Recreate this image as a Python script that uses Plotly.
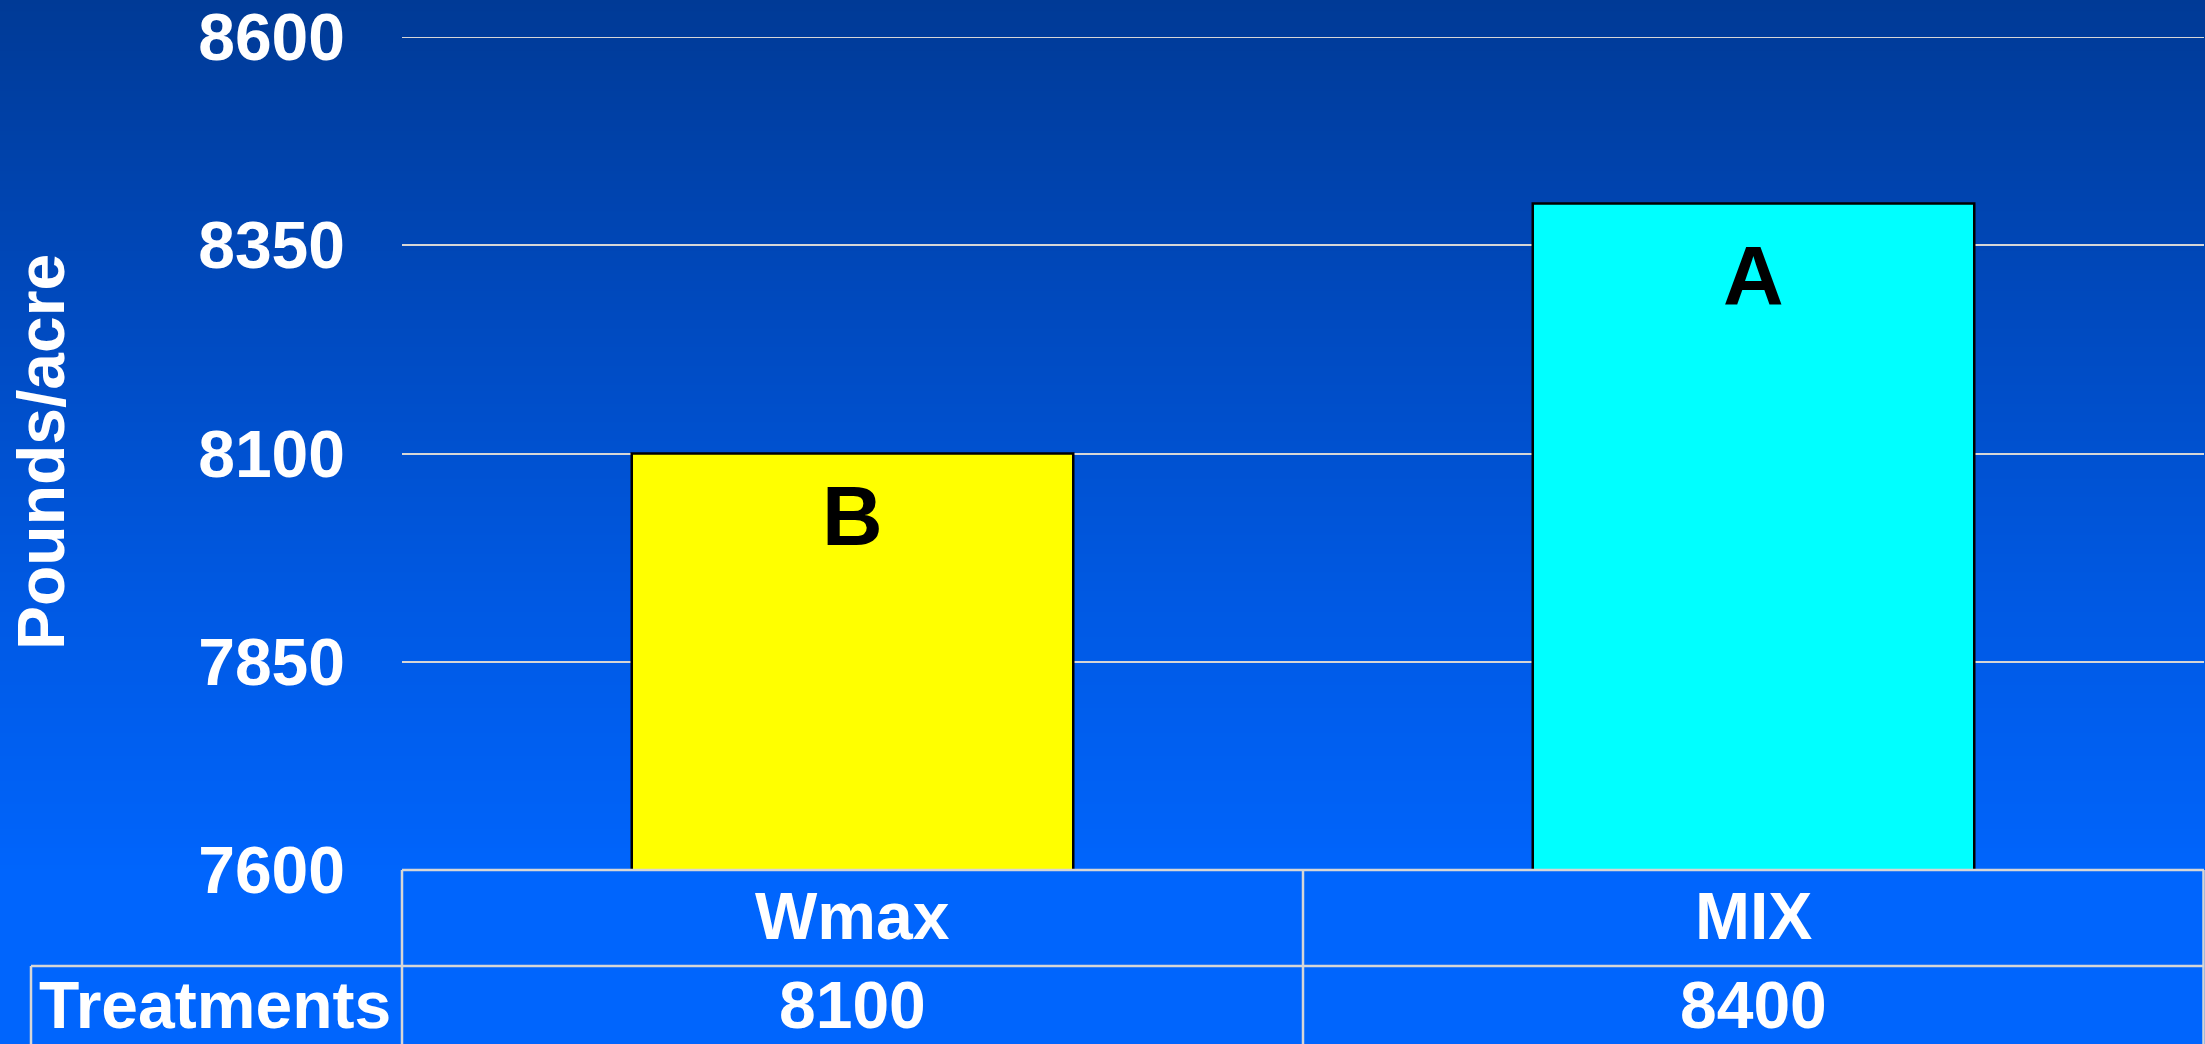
import base64
import struct
import zlib

import plotly.graph_objects as go

# ---------------- data ----------------
treatments = ["Wmax", "MIX"]
yield_lbs = [8100, 8400]
table_values = ["8100", "8400"]
letters = ["B", "A"]
bar_colors = ["#ffff00", "#00ffff"]
y_ticks = [7600, 7850, 8100, 8350, 8600]
row_header = "Treatments"
y_title = "Pounds/acre"

# ---------------- geometry (pixels) ----------------
W, H = 2205, 1044
L, R, T, B = 402, 1, 37, 174
PW = W - L - R
PH = H - T - B


def px_x(x):
    return (x - L) / PW


def px_y(y):
    return (H - B - y) / PH


# ---------------- gradient background ----------------
stops = [(0, (0, 58, 150)), (300, (0, 73, 189)), (600, (0, 89, 227)),
         (840, (0, 99, 249)), (872, (0, 101, 253)), (H, (0, 101, 253))]


def color_at(y):
    for (y0, c0), (y1, c1) in zip(stops[:-1], stops[1:]):
        if y0 <= y <= y1:
            t = 0 if y1 == y0 else (y - y0) / (y1 - y0)
            return tuple(int(round(a + (b - a) * t)) for a, b in zip(c0, c1))
    return stops[-1][1]


def make_png(width, height):
    raw = b""
    for y in range(height):
        c = color_at(y)
        raw += b"\x00" + bytes(c) * width

    def chunk(tag, data):
        out = struct.pack(">I", len(data)) + tag + data
        return out + struct.pack(">I", zlib.crc32(tag + data) & 0xFFFFFFFF)

    ihdr = struct.pack(">IIBBBBB", width, height, 8, 2, 0, 0, 0)
    png = b"\x89PNG\r\n\x1a\n" + chunk(b"IHDR", ihdr) + chunk(b"IDAT", zlib.compress(raw, 9)) + chunk(b"IEND", b"")
    return "data:image/png;base64," + base64.b64encode(png).decode()


bg_src = make_png(4, H)

FONT = "Liberation Sans, Arial, Helvetica, sans-serif"
LINE = "#d6d6d6"

fig = go.Figure()
fig.add_trace(go.Bar(
    x=treatments,
    y=yield_lbs,
    marker=dict(color=bar_colors, line=dict(color="black", width=2.5)),
    hoverinfo="skip",
))

# letters on bars
letter_shift = [-62, -72]
annotations = []
for cat, val, lt, ys in zip(treatments, yield_lbs, letters, letter_shift):
    annotations.append(dict(x=cat, y=val, xref="x", yref="y", text=lt, showarrow=False,
                            xanchor="center", yanchor="middle", yshift=ys,
                            font=dict(family=FONT, size=84, color="black", weight="bold")))

# table text
row1_y = px_y(916)
row2_y = px_y(1005)
for cat, tv in zip(treatments, table_values):
    annotations.append(dict(x=cat, y=row1_y, xref="x", yref="paper", text=cat, showarrow=False,
                            xanchor="center", yanchor="middle",
                            font=dict(family=FONT, size=66, color="white", weight="bold")))
    annotations.append(dict(x=cat, y=row2_y, xref="x", yref="paper", text=tv, showarrow=False,
                            xanchor="center", yanchor="middle",
                            font=dict(family=FONT, size=66, color="white", weight="bold")))
annotations.append(dict(x=px_x(215), y=row2_y, xref="paper", yref="paper", text=row_header,
                        showarrow=False, xanchor="center", yanchor="middle",
                        font=dict(family=FONT, size=66, color="white", weight="bold")))
# y title
annotations.append(dict(x=px_x(41), y=px_y(452), xref="paper", yref="paper", text=y_title,
                        showarrow=False, textangle=-90, xanchor="center", yanchor="middle",
                        font=dict(family=FONT, size=66, color="white", weight="bold")))

# table lines + top grid line
bottom = px_y(H + 20)
mid_row = px_y(966)
shapes = []


def hline(x0, x1, y):
    shapes.append(dict(type="line", xref="paper", yref="paper", x0=x0, x1=x1, y0=y, y1=y,
                       line=dict(color=LINE, width=2.5), layer="above"))


def vline(x, y0, y1):
    shapes.append(dict(type="line", xref="paper", yref="paper", x0=x, x1=x, y0=y0, y1=y1,
                       line=dict(color=LINE, width=2.5), layer="above"))


shapes.append(dict(type="line", xref="paper", yref="y", x0=0, x1=1, y0=y_ticks[-1], y1=y_ticks[-1],
                   line=dict(color=LINE, width=2), layer="below"))
hline(0, 1, 0)
hline(px_x(31), 1, mid_row)
vline(0, 0, bottom)
vline(0.5, 0, bottom)
vline(px_x(2203.5), 0, bottom)
vline(px_x(31), mid_row, bottom)

fig.update_layout(
    width=W, height=H,
    margin=dict(l=L, r=R, t=T, b=B, pad=0),
    paper_bgcolor="#0065fd",
    plot_bgcolor="rgba(0,0,0,0)",
    showlegend=False,
    bargap=0.51,
    images=[dict(source=bg_src, xref="paper", yref="paper", x=px_x(0), y=px_y(0),
                 sizex=W / PW, sizey=H / PH, sizing="stretch", xanchor="left", yanchor="top",
                 layer="below")],
    xaxis=dict(showticklabels=False, showgrid=False, zeroline=False, showline=False,
               ticks="", range=[-0.5, 1.5]),
    yaxis=dict(range=[7600, 8600], tickvals=y_ticks, ticktext=[str(v) for v in y_ticks],
               showgrid=True, gridcolor=LINE, gridwidth=2, zeroline=False, showline=False,
               ticks="", ticklabelstandoff=56,
               tickfont=dict(family=FONT, size=66, color="white", weight="bold")),
    annotations=annotations,
    shapes=shapes,
)

fig.write_html("out.html", config={"displayModeBar": False, "staticPlot": True})

# remove default page margin so the figure fills the window exactly
with open("out.html", "r", encoding="utf-8") as f:
    html = f.read()
html = html.replace("<head>", "<head><style>html,body{margin:0;padding:0;overflow:hidden;background:#0065fd;}</style>", 1)
with open("out.html", "w", encoding="utf-8") as f:
    f.write(html)
